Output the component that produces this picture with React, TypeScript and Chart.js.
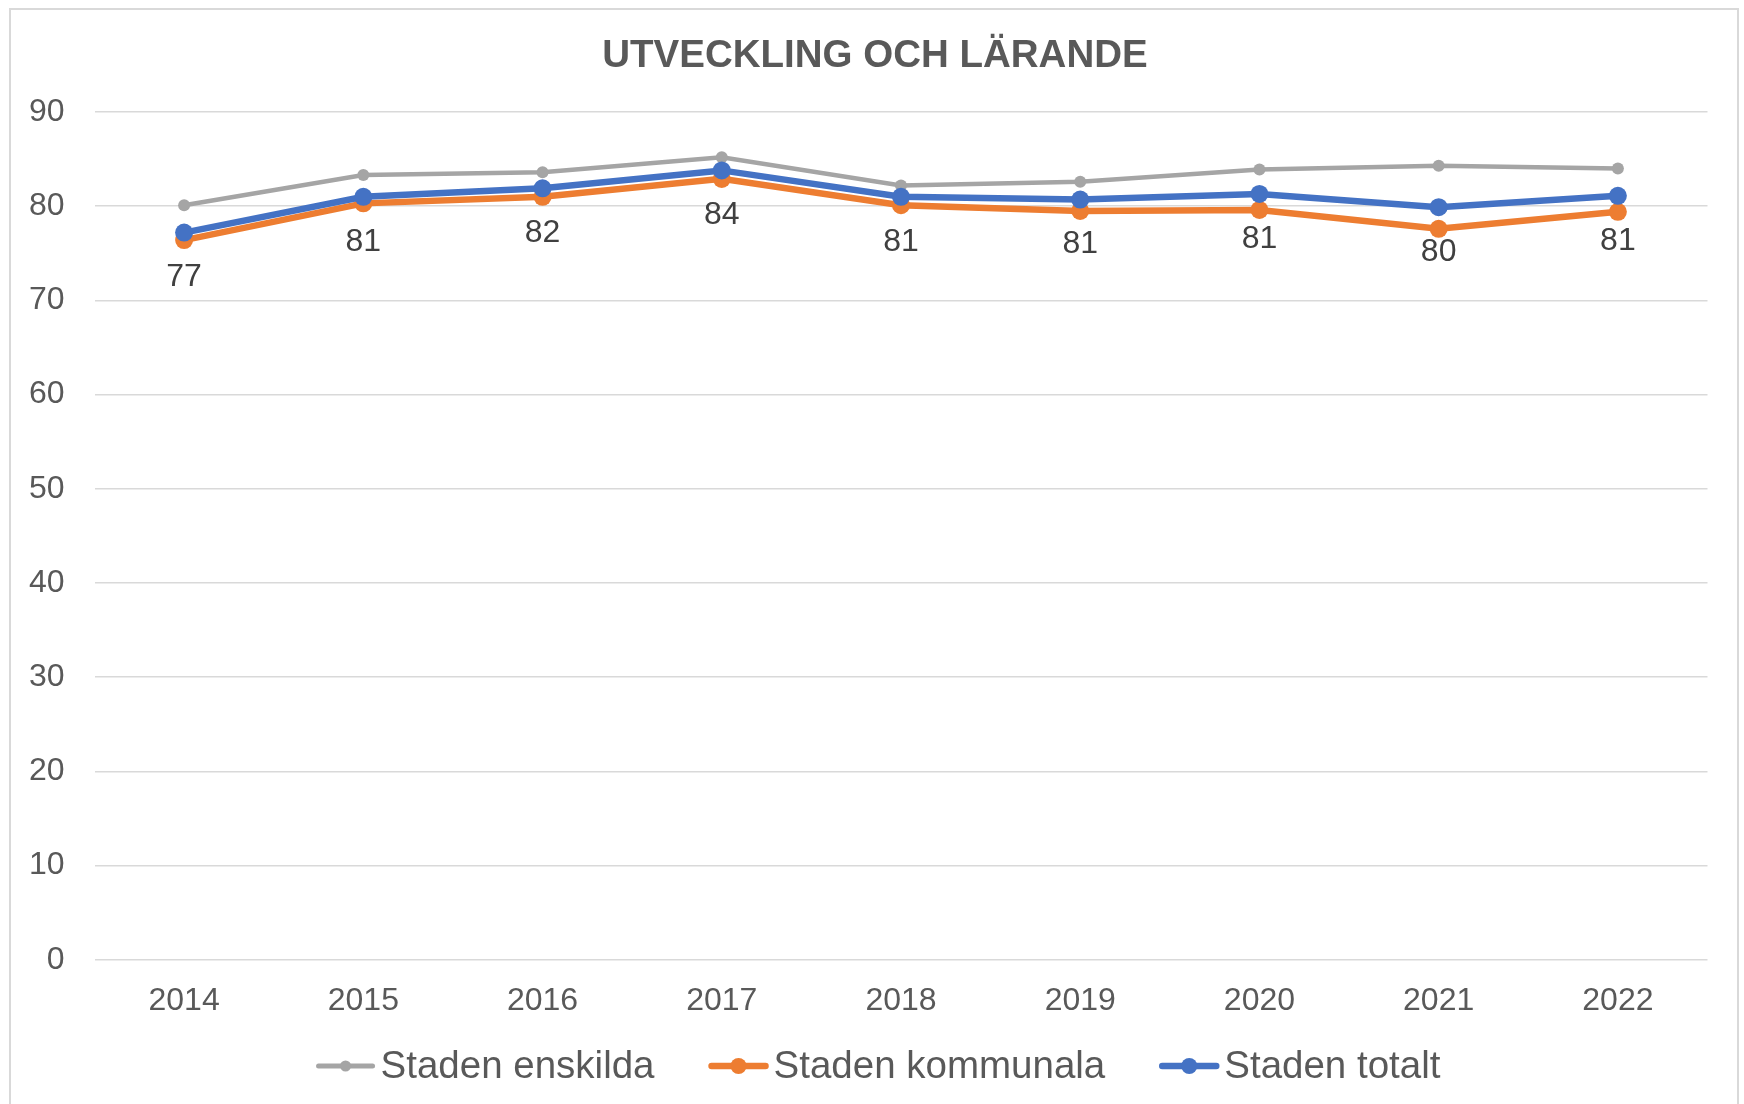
import React, { useEffect, useRef } from "react";
import { Chart, registerables } from "chart.js";

Chart.register(...registerables);

const categories = ["2014", "2015", "2016", "2017", "2018", "2019", "2020", "2021", "2022"];
const stadenEnskilda = [80.1, 83.3, 83.6, 85.2, 82.2, 82.6, 83.9, 84.3, 84.0];
const stadenKommunala = [76.4, 80.3, 81.0, 82.9, 80.1, 79.5, 79.6, 77.6, 79.4];
const stadenTotalt = [77.2, 81.0, 81.9, 83.8, 81.0, 80.7, 81.3, 79.9, 81.1];
const yMin = 0;
const yMax = 90;
const yStep = 10;
const titleText = "UTVECKLING OCH LÄRANDE";

const FONT = "'Liberation Sans', Arial, sans-serif";
const TEXT = "#595959";

const frameTitleLegend = {
  id: "frameTitleLegend",
  beforeDraw(chart: any) {
    const ctx = chart.ctx;
    ctx.save();
    ctx.fillStyle = "#ffffff";
    ctx.fillRect(0, 0, chart.width, chart.height);
    ctx.strokeStyle = "#d9d9d9";
    ctx.lineWidth = 2;
    ctx.beginPath();
    ctx.moveTo(10, chart.height + 5);
    ctx.lineTo(10, 9);
    ctx.lineTo(1738, 9);
    ctx.lineTo(1738, chart.height + 5);
    ctx.stroke();
    ctx.restore();
  },
  afterDraw(chart: any) {
    const ctx = chart.ctx;
    const ds = chart.data.datasets;
    ctx.save();
    // title
    ctx.font = `bold 38.5px ${FONT}`;
    ctx.fillStyle = TEXT;
    ctx.textAlign = "center";
    ctx.textBaseline = "middle";
    ctx.fillText(titleText, 875, 56.5);
    // legend
    ctx.font = `38.5px ${FONT}`;
    const markerW = 58;
    const gapText = 6;
    const gapItem = 55;
    const widths = ds.map((d: any) => ctx.measureText(d.label).width);
    let total = 0;
    ds.forEach((_: any, i: number) => {
      total += markerW + gapText + widths[i];
      if (i < ds.length - 1) total += gapItem;
    });
    let x = chart.width / 2 + 6.5 - total / 2;
    const y = 1066;
    ds.forEach((d: any, i: number) => {
      ctx.strokeStyle = d.borderColor;
      ctx.fillStyle = d.borderColor;
      ctx.lineWidth = d.legendLineWidth;
      ctx.lineCap = "round";
      ctx.beginPath();
      ctx.moveTo(x + 2, y);
      ctx.lineTo(x + markerW - 2, y);
      ctx.stroke();
      ctx.beginPath();
      ctx.arc(x + markerW / 2, y, d.legendDot, 0, Math.PI * 2);
      ctx.fill();
      ctx.fillStyle = TEXT;
      ctx.textAlign = "left";
      ctx.textBaseline = "middle";
      ctx.fillText(d.label, x + markerW + gapText, y + 1);
      x += markerW + gapText + widths[i] + gapItem;
    });
    ctx.restore();
  },
};

const dataLabels = {
  id: "dataLabels",
  afterDatasetsDraw(chart: any) {
    const ctx = chart.ctx;
    const idx = chart.data.datasets.findIndex((d: any) => d.showLabels);
    if (idx < 0) return;
    const meta = chart.getDatasetMeta(idx);
    const values = chart.data.datasets[idx].data;
    ctx.save();
    ctx.font = `32px ${FONT}`;
    ctx.fillStyle = "#404040";
    ctx.textAlign = "center";
    ctx.textBaseline = "middle";
    meta.data.forEach((pt: any, i: number) => {
      ctx.fillText(String(Math.round(values[i])), pt.x, pt.y + 45);
    });
    ctx.restore();
  },
};

export default function App() {
  const ref = useRef<HTMLCanvasElement | null>(null);
  useEffect(() => {
    if (!ref.current) return;
    const chart = new Chart(ref.current, {
      type: "line",
      data: {
        labels: categories,
        datasets: [
          {
            label: "Staden enskilda",
            data: stadenEnskilda,
            borderColor: "#A5A5A5",
            backgroundColor: "#A5A5A5",
            borderWidth: 4.5,
            pointRadius: 6,
            pointBorderWidth: 0,
            pointBackgroundColor: "#A5A5A5",
            tension: 0,
            order: 2,
            legendLineWidth: 5,
            legendDot: 5.5,
          } as any,
          {
            label: "Staden kommunala",
            data: stadenKommunala,
            borderColor: "#ED7D31",
            backgroundColor: "#ED7D31",
            borderWidth: 6.5,
            pointRadius: 9,
            pointBorderWidth: 0,
            pointBackgroundColor: "#ED7D31",
            tension: 0,
            order: 1,
            legendLineWidth: 6.5,
            legendDot: 8,
          } as any,
          {
            label: "Staden totalt",
            data: stadenTotalt,
            borderColor: "#4472C4",
            backgroundColor: "#4472C4",
            borderWidth: 6.5,
            pointRadius: 9,
            pointBorderWidth: 0,
            pointBackgroundColor: "#4472C4",
            tension: 0,
            order: 0,
            showLabels: true,
            legendLineWidth: 6.5,
            legendDot: 8,
          } as any,
        ],
      },
      options: {
        responsive: false,
        animation: false,
        devicePixelRatio: 1,
        layout: { padding: { top: 112, left: 10, right: 36.5, bottom: 85.8 } },
        plugins: {
          legend: { display: false },
          tooltip: { enabled: false },
          title: { display: false },
        },
        scales: {
          x: {
            type: "category",
            offset: true,
            grid: { display: false, drawTicks: false },
            border: { display: false },
            ticks: {
              color: TEXT,
              font: { family: FONT, size: 32 },
              padding: 22,
              maxRotation: 0,
              autoSkip: false,
            },
            afterFit(scale: any) {
              scale.height = 58.4;
            },
          },
          y: {
            min: yMin,
            max: yMax,
            grid: { color: "#d9d9d9", lineWidth: 1.5, drawTicks: false },
            border: { display: false },
            ticks: {
              stepSize: yStep,
              color: TEXT,
              font: { family: FONT, size: 32 },
              padding: 30,
            },
            afterFit(scale: any) {
              scale.width = 84.5;
            },
          },
        },
      },
      plugins: [frameTitleLegend, dataLabels],
    });
    return () => chart.destroy();
  }, []);
  return (
    <div style={{ position: "absolute", left: 0, top: 0, width: 1744, height: 1104 }}>
      <canvas ref={ref} width={1744} height={1104} style={{ display: "block" }} />
    </div>
  );
}
